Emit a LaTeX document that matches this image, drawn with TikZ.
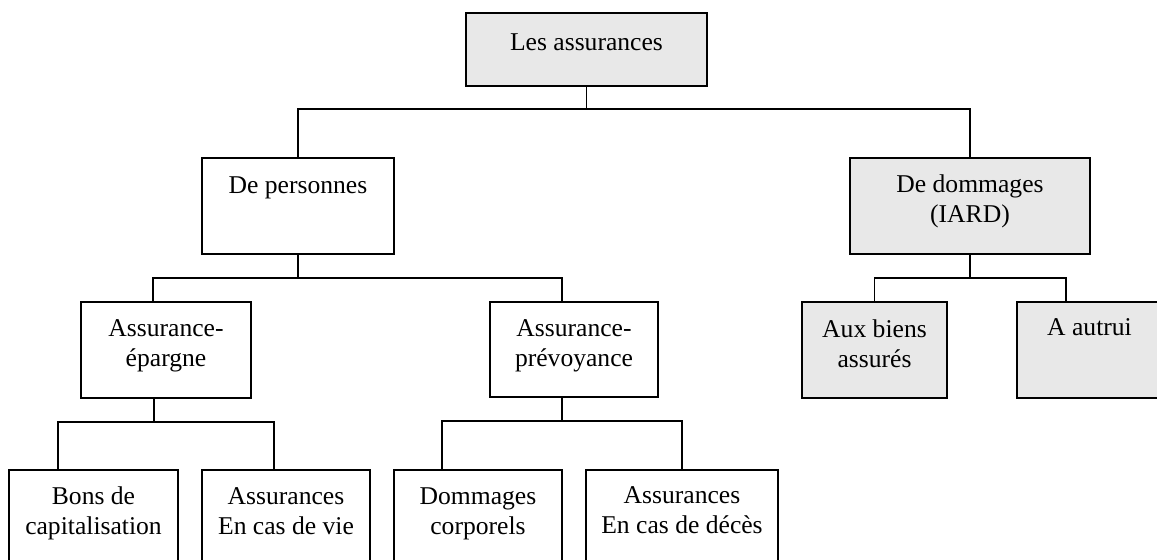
\documentclass[tikz,border=0pt]{standalone}
\usepackage{fontspec}
\setmainfont{Liberation Serif}
\definecolor{boxgray}{RGB}{232,232,232}
\newcommand{\twolines}[2]{\begin{tabular}[t]{@{}c@{}}#1\\#2\end{tabular}}
\begin{document}
\begin{tikzpicture}[x=0.5pt,y=-0.5pt,
  box/.style={draw=black, line width=0.85pt, anchor=north west, inner sep=0pt, outer sep=0pt},
  shaded/.style={box, fill=boxgray},
  lbl/.style={anchor=base, inner sep=0pt, font=\fontsize{12.8}{15}\selectfont},
  link/.style={draw=black, line width=0.65pt}]
\useasboundingbox (0,0) rectangle (1157,560);
\clip (0,0) rectangle (1157,560);

% boxes
\node[shaded, minimum width=120.5pt, minimum height=36.5pt] (top) at (466,13) {};
\node[box,    minimum width=96pt,   minimum height=48pt]   (pers) at (202,158) {};
\node[shaded, minimum width=120pt,  minimum height=48pt]   (domm) at (850,158) {};
\node[box,    minimum width=85pt,   minimum height=48pt]   (epar) at (81,302) {};
\node[box,    minimum width=84pt,   minimum height=47.5pt] (prev) at (490,302) {};
\node[shaded, minimum width=72.5pt, minimum height=48pt]   (aux) at (802,302) {};
\node[shaded, minimum width=72.5pt, minimum height=48pt]   (autrui) at (1017,302) {};
\node[box,    minimum width=84.5pt, minimum height=60pt]   (bons) at (9,470) {};
\node[box,    minimum width=84pt,   minimum height=60pt]   (vie) at (202,470) {};
\node[box,    minimum width=84pt,   minimum height=60pt]   (corp) at (394,470) {};
\node[box,    minimum width=96pt,   minimum height=60pt]   (deces) at (586,470) {};

% texts
\node[lbl] (tTop)    at ([yshift=-19pt]top.north)    {Les assurances};
\node[lbl] (tPers)   at ([yshift=-18pt]pers.north)   {De personnes};
\node[lbl] (tDomm)   at ([yshift=-17.5pt]domm.north) {\twolines{De dommages}{(IARD)}};
\node[lbl] (tEpar)   at ([yshift=-17.5pt]epar.north) {\twolines{Assurance-}{épargne}};
\node[lbl] (tPrev)   at ([yshift=-17.5pt]prev.north) {\twolines{Assurance-}{prévoyance}};
\node[lbl] (tAux)    at ([yshift=-18pt]aux.north)    {\twolines{Aux biens}{assurés}};
\node[lbl] (tAutrui) at ([yshift=-17pt]autrui.north) {A autrui};
\node[lbl] (tBons)   at ([yshift=-17.5pt]bons.north) {\twolines{Bons de}{capitalisation}};
\node[lbl] (tVie)    at ([yshift=-17.5pt]vie.north)  {\twolines{Assurances}{En cas de vie}};
\node[lbl] (tCorp)   at ([yshift=-17.5pt]corp.north) {\twolines{Dommages}{corporels}};
\node[lbl] (tDeces)  at ([yshift=-17pt]deces.north)  {\twolines{Assurances}{En cas de décès}};

% connectors
\draw[link] (top.south) -- ++(0,23) -| (pers.north);
\draw[link] (top.south) ++(0,23) -| (domm.north);

\draw[link] (pers.south) -- ++(0,24) -| ([xshift=-6.5pt]epar.north);
\draw[link] (pers.south) ++(0,24) -| ([xshift=-6pt]prev.north);

\draw[link] (domm.south) -- ++(0,24) -| (aux.north);
\draw[link] (domm.south) ++(0,24) -| ([xshift=-11.75pt]autrui.north);

\draw[link] ([xshift=-6pt]epar.south) -- ++(0,24) -| ([xshift=-17.75pt]bons.north);
\draw[link] ([xshift=-6pt]epar.south) ++(0,24) -| ([xshift=-6pt]vie.north);

\draw[link] ([xshift=-6pt]prev.south) -- ++(0,24) -| ([xshift=-18pt]corp.north);
\draw[link] ([xshift=-6pt]prev.south) ++(0,24) -| (deces.north);
\end{tikzpicture}
\end{document}
